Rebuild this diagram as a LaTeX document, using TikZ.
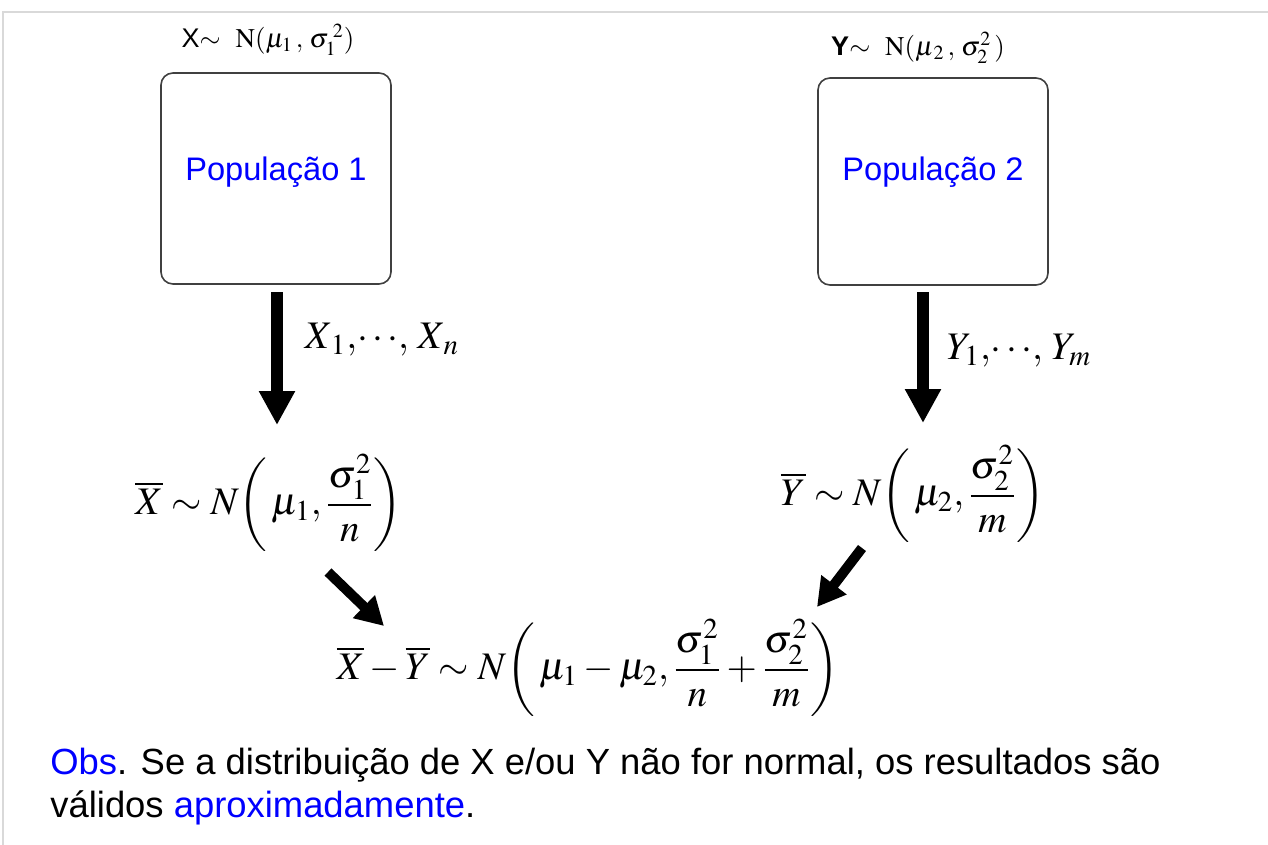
\documentclass[tikz,border=0pt]{standalone}
\usepackage{amsmath}
\usepackage{mathptmx}
\usepackage[no-math]{fontspec}
\setmainfont{Liberation Sans}
\usetikzlibrary{arrows.meta}
\definecolor{popblue}{HTML}{0000FF}
\definecolor{framegray}{HTML}{D9D9D9}
\definecolor{boxgray}{HTML}{404040}
\tikzset{
  popbox/.style={draw=boxgray, line width=0.8pt, rounded corners=6pt, minimum width=115pt, inner sep=0pt},
  poptext/.style={inner sep=0pt, text=popblue, font=\fontsize{16.3}{19}\selectfont},
  bigarrow/.style={line width=6pt, -{Triangle[width=17pt,length=17pt]}},
  diagarrow/.style={line width=5pt, -{Triangle[width=15pt,length=14pt]}},
  formula/.style={inner sep=0pt, font=\fontsize{19.5}{23}\selectfont},
  toplabel/.style={inner sep=0pt, font=\fontsize{13.5}{15}\selectfont},
  obstext/.style={inner sep=0pt, anchor=base west, font=\fontsize{18.2}{22}\selectfont},
}
\begin{document}
\begin{tikzpicture}[x=0.5pt,y=-0.5pt]
\useasboundingbox (0,0) rectangle (1268,845);
\draw[framegray, line width=1pt] (3,845) -- (3,12) -- (1268,12);

% top labels
\node[toplabel] (lab1) at (268,40) {X$\sim$\ \ $\mathrm{N}(\mu_1\,,\,\sigma_1^{\;2})$};
\node[toplabel] (lab2) at (918,48) {\textbf{Y}$\sim$\ \ $\mathrm{N}(\mu_{\,2}\,,\,\sigma_2^2\,)$};

% population boxes
\node[popbox, minimum height=105.5pt] (pop1) at (276,178.5) {};
\node[poptext] (pop1txt) at (276,172) {População 1};
\node[popbox, minimum height=103.5pt] (pop2) at (933,181.5) {};
\node[poptext] (pop2txt) at (933,172) {População 2};

% sample labels
\node[formula] (samp1) at (382,340) {$X_{\,1},\!\cdots\!,\,X_{\,n}$};
\node[formula] (samp2) at (1019,351) {$Y_1,\!\cdots\!,\,Y_m$};

% distributions
\node[formula] (f1) at (269,503) {$\overline{X}\sim N\!\left(\,\mu_1,\dfrac{\sigma_1^2}{n}\right)$};
\node[formula] (f2) at (913,494) {$\overline{Y}\sim N\!\left(\,\mu_2,\dfrac{\sigma_2^2}{m}\right)$};
\node[formula] (f3) at (588,668) {$\overline{X}-\overline{Y}\sim N\!\left(\,\mu_1-\mu_2,\dfrac{\sigma_1^2}{n}+\dfrac{\sigma_2^2}{m}\right)$};

% arrows
\coordinate (a1s) at (277,292);
\coordinate (a1e) at (277,425);
\coordinate (a2s) at (923,292);
\coordinate (a2e) at (923,423);
\coordinate (d1s) at (328,572);
\coordinate (d1e) at (384,626);
\coordinate (d2s) at (862,548);
\coordinate (d2e) at (817,607);
\draw[bigarrow] (a1s) -- (a1e);
\draw[bigarrow] (a2s) -- (a2e);
\draw[diagarrow] (d1s) -- (d1e);
\draw[diagarrow] (d2s) -- (d2e);

% observation
\node[obstext] (obs1) at (50,774) {\textcolor{popblue}{Obs}. Se a distribuição de X e/ou Y não for normal, os resultados são};
\node[obstext] (obs2) at (50,817) {válidos \textcolor{popblue}{aproximadamente}.};
\end{tikzpicture}
\end{document}
